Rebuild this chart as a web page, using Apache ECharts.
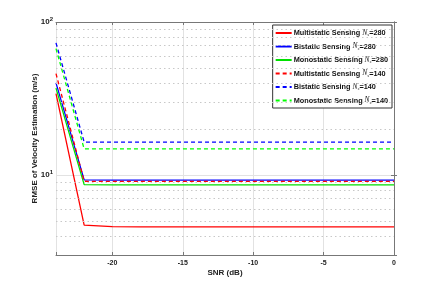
<!DOCTYPE html>
<html><head><meta charset="utf-8">
<script src="https://cdn.jsdelivr.net/npm/echarts@6/dist/echarts.min.js"></script>
<style>html,body{margin:0;padding:0;background:#fff}#c{width:436px;height:288px}</style>
</head><body><div id="c"></div>
<script>
var snr = [-24,-22,-20,-18,-16,-14,-12,-10,-8,-6,-4,-2,0];
var multi280 = [34, 4.7, 4.6, 4.58, 4.58, 4.58, 4.58, 4.58, 4.58, 4.58, 4.58, 4.58, 4.58];
var bi280    = [40, 9.3, 9.27, 9.27, 9.27, 9.27, 9.27, 9.27, 9.27, 9.27, 9.27, 9.27, 9.27];
var mono280  = [37, 8.65, 8.62, 8.62, 8.62, 8.62, 8.62, 8.62, 8.62, 8.62, 8.62, 8.62, 8.62];
var multi140 = [46, 9.1, 9.08, 9.08, 9.08, 9.08, 9.08, 9.08, 9.08, 9.08, 9.08, 9.08, 9.08];
var bi140    = [73, 16.4, 16.4, 16.4, 16.4, 16.4, 16.4, 16.4, 16.4, 16.4, 16.4, 16.4, 16.4];
var mono140  = [67, 14.8, 14.8, 14.8, 14.8, 14.8, 14.8, 14.8, 14.8, 14.8, 14.8, 14.8, 14.8];
var names = ['Multistatic Sensing', 'Bistatic Sensing', 'Monostatic Sensing', 'Multistatic Sensing', 'Bistatic Sensing', 'Monostatic Sensing'];
var nsVals = ['280','280','280','140','140','140'];
var minorGrid = [4,5,6,7,8,9,20,30,40,50,60,70,80,90];
var xMin = -24, xMax = 0, yMin = 3, yMax = 100;

function pairs(arr){ return snr.map(function(x,i){ return [x, arr[i]]; }); }
var seriesData = [multi280, bi280, mono280, multi140, bi140, mono140];
var colors = ['#ff0000','#0000ff','#00e000','#ff0000','#0000ff','#00ff00'];
var types = ['solid','solid','solid',[4,3],[4,3],[4,3]];
var series = seriesData.map(function(d, i){
  var s = {
    name: 'S' + i,
    type: 'line',
    data: pairs(d),
    symbol: 'none',
    showSymbol: false,
    lineStyle: {color: colors[i], width: 1.3, type: types[i]},
    itemStyle: {color: colors[i]},
    z: 3 + i
  };
  if (i === 0) {
    s.markLine = {
      silent: true, symbol: ['none','none'], label: {show: false},
      lineStyle: {type: [1.5, 3], color: '#c8c8c8', width: 1},
      animation: false,
      data: minorGrid.map(function(v){ return {yAxis: v}; })
    };
  }
  return s;
});
var legendMap = {};
seriesData.forEach(function(d,i){ legendMap['S'+i] = '{b|' + names[i] + ' }{i|N}{s|s}{b|=' + nsVals[i] + '}'; });

var chart = echarts.init(document.getElementById('c'), null, {renderer: 'canvas'});
var lab = {fontFamily: 'Liberation Sans, Arial, sans-serif', fontWeight: 'bold', color: '#222'};
chart.setOption({
  animation: false,
  backgroundColor: '#fff',
  grid: {left: 56, top: 22, width: 338, height: 233, containLabel: false},
  legend: {
    orient: 'vertical', right: 44, top: 25,
    data: series.map(function(s){ return s.name; }),
    backgroundColor: '#fff', borderColor: '#333', borderWidth: 1,
    padding: [4, 4, 3, 2], itemGap: 5, itemWidth: 16, itemHeight: 8,
    itemStyle: {opacity: 0},
    formatter: function(n){ return legendMap[n]; },
    textStyle: {
      fontFamily: 'Liberation Sans, Arial, sans-serif', fontSize: 7, padding: [0,0,0,-3],
      rich: {
        b: {fontSize: 7.3, fontWeight: 'bold', color: '#111', fontFamily: 'Liberation Sans, Arial, sans-serif'},
        i: {fontSize: 7.5, fontStyle: 'italic', color: '#111', fontFamily: 'Liberation Serif, Times New Roman, serif'},
        s: {fontSize: 5, fontStyle: 'italic', color: '#111', padding: [4,0,0,0], fontFamily: 'Liberation Serif, Times New Roman, serif'}
      }
    }
  },
  xAxis: [{
    type: 'value', min: xMin, max: xMax, position: 'bottom',
    name: 'SNR (dB)', nameLocation: 'middle', nameGap: 14, nameMoveOverlap: false,
    nameTextStyle: {fontFamily: 'Liberation Sans, Arial, sans-serif', fontSize: 8, fontWeight: 'bold', color: '#222', verticalAlign: 'top'},
    axisLine: {lineStyle: {color: '#777', width: 1}},
    axisTick: {inside: true, length: 3, lineStyle: {color: '#777'}},
    axisLabel: Object.assign({fontSize: 7, margin: 5, formatter: function(v){ return v === xMin ? '' : String(v); }}, lab),
    splitLine: {show: true, lineStyle: {color: '#e2e2e2', width: 1}}
  }, {
    type: 'value', min: xMin, max: xMax, position: 'top',
    axisLine: {show: true, lineStyle: {color: '#777', width: 1}},
    axisTick: {inside: true, length: 3, lineStyle: {color: '#777'}},
    axisLabel: {show: false}, splitLine: {show: false}
  }],
  yAxis: [{
    type: 'log', logBase: 10, min: yMin, max: yMax, position: 'left',
    name: 'RMSE of Velocity Estimation (m/s)', nameLocation: 'middle', nameGap: 17, nameRotate: 90, nameMoveOverlap: false,
    nameTextStyle: {fontFamily: 'Liberation Sans, Arial, sans-serif', fontSize: 8, fontWeight: 'bold', color: '#222'},
    axisLine: {show: true, lineStyle: {color: '#777', width: 1}},
    axisTick: {inside: true, length: 3, lineStyle: {color: '#777'}},
    axisLabel: {
      margin: 3,
      formatter: function(v){
        if (Math.abs(v - 100) < 1e-6) return '{b|10}{s|2}';
        if (Math.abs(v - 10) < 1e-6) return '{b|10}{s|1}';
        return '';
      },
      rich: {
        b: {fontSize: 8, fontWeight: 'bold', color: '#222', fontFamily: 'Liberation Sans, Arial, sans-serif'},
        s: {fontSize: 6, fontWeight: 'bold', color: '#222', padding: [0,0,6,0], fontFamily: 'Liberation Sans, Arial, sans-serif'}
      }
    },
    splitLine: {show: true, lineStyle: {color: '#e2e2e2', width: 1}}
  }, {
    type: 'log', logBase: 10, min: yMin, max: yMax, position: 'right',
    axisLine: {show: true, lineStyle: {color: '#777', width: 1}},
    axisTick: {inside: true, length: 3, lineStyle: {color: '#777'}},
    axisLabel: {show: false}, splitLine: {show: false}
  }],
  series: series
});
</script></body></html>
